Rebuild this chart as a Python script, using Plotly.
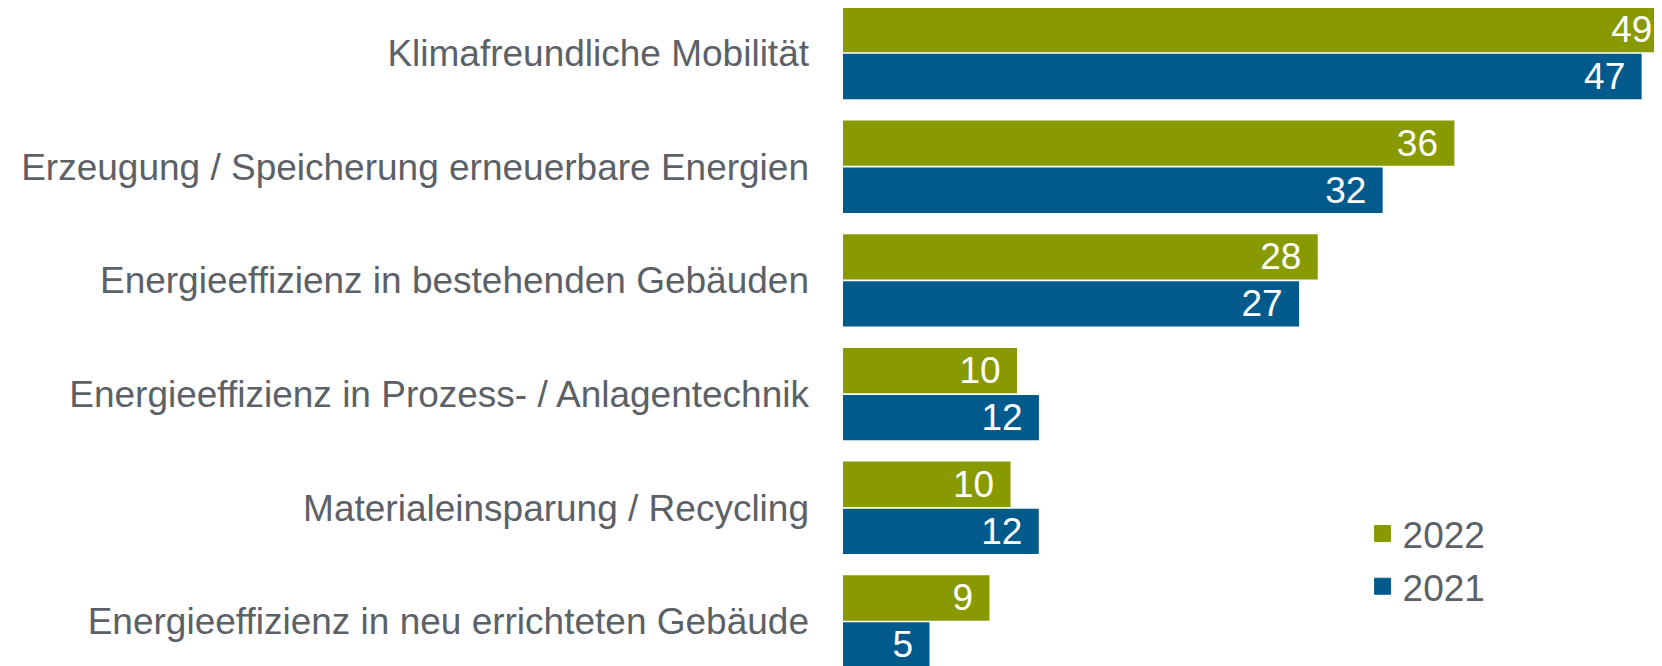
import plotly.graph_objects as go

categories = [
    "Klimafreundliche Mobilität",
    "Erzeugung / Speicherung erneuerbare Energien",
    "Energieeffizienz in bestehenden Gebäuden",
    "Energieeffizienz in Prozess- / Anlagentechnik",
    "Materialeinsparung / Recycling",
    "Energieeffizienz in neu errichteten Gebäude",
]
values_2022 = [48.6, 35.98, 27.94, 10.24, 9.86, 8.62]
values_2021 = [47.0, 31.76, 26.84, 11.53, 11.52, 5.09]
series_names = ["2022", "2021"]

GREEN = "#889A00"
BLUE = "#005B8C"
GRAY = "#5B6167"
FONT = "Liberation Sans, Arial, sans-serif"
FS = 37

fig = go.Figure()
for name, vals, col in [(series_names[0], values_2022, GREEN), (series_names[1], values_2021, BLUE)]:
    fig.add_trace(go.Bar(
        y=categories, x=vals, orientation="h", name=name,
        marker=dict(color=col, line=dict(width=0)),
        texttemplate="%{x:.0f}\u00a0\u200a",
        textposition="inside", insidetextanchor="end",
        constraintext="none", textangle=0,
        textfont=dict(family=FONT, size=FS, color="white"),
        showlegend=False, hoverinfo="skip",
    ))

for name, col in [(series_names[0], GREEN), (series_names[1], BLUE)]:
    fig.add_trace(go.Scatter(
        x=[None], y=[None], mode="markers", name=name,
        marker=dict(symbol="square", size=16, color=col, line=dict(width=1, color=col)),
        legendgroup=name, showlegend=True,
    ))

fig.update_layout(
    width=1662, height=666,
    margin=dict(l=834.7, r=0, t=0, b=0, pad=0, autoexpand=False),
    paper_bgcolor="white", plot_bgcolor="white",
    barmode="group", bargap=0.173, bargroupgap=0.036,
    font=dict(family=FONT, size=FS, color=GRAY),
    xaxis=dict(range=[0, 48.67], visible=False, showgrid=False, zeroline=False, automargin=False),
    yaxis=dict(
        range=[5.462, -0.396], type="category",
        categoryorder="array", categoryarray=categories,
        showgrid=False, zeroline=False, showline=False, automargin=False,
        ticks="", ticklabelstandoff=33,
        tickfont=dict(family=FONT, size=FS, color=GRAY),
    ),
    legend=dict(
        x=0.6283, y=0.2568, xanchor="left", yanchor="top",
        font=dict(family=FONT, size=FS, color=GRAY),
        bgcolor="rgba(0,0,0,0)", borderwidth=0,
        traceorder="grouped", tracegroupgap=1.6,
    ),
    showlegend=True,
)

fig.write_html("out.html")
